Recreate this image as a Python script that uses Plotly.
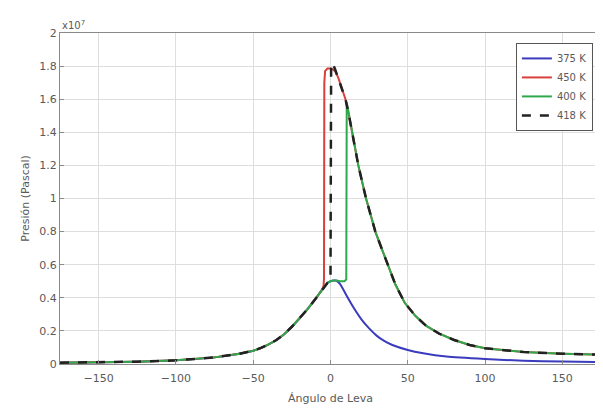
import plotly.graph_objects as go

# Pressure in units of 1e7 Pa versus crank angle (degrees)
x_375 = [-175, -150, -125, -100, -75, -60, -50, -45, -40, -35, -30, -25, -20, -15, -10, -5, -2, 0, 2, 4, 6, 8, 10, 15, 20, 25, 30, 35, 40, 50, 60, 75, 100, 125, 150, 175]
y_375 = [0.008, 0.01, 0.014, 0.022, 0.04, 0.06, 0.08, 0.097, 0.118, 0.145, 0.18, 0.225, 0.275, 0.33, 0.39, 0.455, 0.49, 0.50, 0.505, 0.503, 0.485, 0.455, 0.42, 0.34, 0.27, 0.215, 0.17, 0.138, 0.115, 0.085, 0.065, 0.045, 0.03, 0.02, 0.015, 0.012]

x_450 = [-175, -150, -125, -100, -75, -60, -50, -45, -40, -35, -30, -25, -20, -15, -10, -6, -4.5, -4.2, -4.0, -3.5, -2, 0, 1.5, 3, 5, 7, 9.7, 12, 14, 16, 18, 20.5, 23, 26, 29, 33, 37, 42, 48, 55, 62, 70, 80, 90, 100, 125, 150, 175]
y_450 = [0.008, 0.01, 0.014, 0.022, 0.04, 0.06, 0.08, 0.097, 0.118, 0.145, 0.18, 0.225, 0.275, 0.33, 0.39, 0.44, 0.47, 0.52, 1.70, 1.77, 1.785, 1.785, 1.78, 1.77, 1.73, 1.67, 1.60, 1.50, 1.40, 1.30, 1.20, 1.10, 1.00, 0.90, 0.80, 0.70, 0.60, 0.48, 0.37, 0.29, 0.23, 0.185, 0.145, 0.115, 0.095, 0.072, 0.062, 0.056]

x_400 = [-175, -150, -125, -100, -75, -60, -50, -45, -40, -35, -30, -25, -20, -15, -10, -5, -2, 0, 2, 4, 6, 9, 10.2, 10.5, 12, 14, 16, 18, 20.5, 23, 26, 29, 33, 37, 42, 48, 55, 62, 70, 80, 90, 100, 125, 150, 175]
y_400 = [0.008, 0.01, 0.014, 0.022, 0.04, 0.06, 0.08, 0.097, 0.118, 0.145, 0.18, 0.225, 0.275, 0.33, 0.39, 0.455, 0.49, 0.50, 0.505, 0.505, 0.50, 0.50, 0.51, 1.58, 1.50, 1.40, 1.30, 1.20, 1.10, 1.00, 0.90, 0.80, 0.70, 0.60, 0.48, 0.37, 0.29, 0.23, 0.185, 0.145, 0.115, 0.095, 0.072, 0.062, 0.056]

x_418 = [-175, -150, -125, -100, -75, -60, -50, -45, -40, -35, -30, -25, -20, -15, -10, -5, -2, -0.3, 0, 0.4, 1.3, 3, 5, 7, 9.7, 12, 14, 16, 18, 20.5, 23, 26, 29, 33, 37, 42, 48, 55, 62, 70, 80, 90, 100, 125, 150, 175]
y_418 = [0.008, 0.01, 0.014, 0.022, 0.04, 0.06, 0.08, 0.097, 0.118, 0.145, 0.18, 0.225, 0.275, 0.33, 0.39, 0.455, 0.49, 0.50, 0.52, 1.79, 1.82, 1.78, 1.73, 1.67, 1.60, 1.50, 1.40, 1.30, 1.20, 1.10, 1.00, 0.90, 0.80, 0.70, 0.60, 0.48, 0.37, 0.29, 0.23, 0.185, 0.145, 0.115, 0.095, 0.072, 0.062, 0.056]

x_ticks = [-150, -100, -50, 0, 50, 100, 150]
y_ticks = [0, 0.2, 0.4, 0.6, 0.8, 1, 1.2, 1.4, 1.6, 1.8, 2]
y_tick_labels = ["0", "0.2", "0.4", "0.6", "0.8", "1", "1.2", "1.4", "1.6", "1.8", "2"]

fig = go.Figure()
fig.add_trace(go.Scatter(x=x_375, y=y_375, mode="lines", name="375 K",
                         line=dict(color="#3b3bbd", width=2, shape="spline", smoothing=0.5)))
fig.add_trace(go.Scatter(x=x_450, y=y_450, mode="lines", name="450 K",
                         line=dict(color="#d8403c", width=2)))
fig.add_trace(go.Scatter(x=x_400, y=y_400, mode="lines", name="400 K",
                         line=dict(color="#2fa84c", width=2)))
fig.add_trace(go.Scatter(x=x_418, y=y_418, mode="lines", name="418 K",
                         line=dict(color="#222222", width=2.5, dash="dash")))

FONT = "DejaVu Sans, Liberation Sans, Arial, sans-serif"
axis_font = dict(family=FONT, size=11, color="#5a5a5a")
# The page body adds an 8px offset; the figure is sized so the plot area lands where the reference has it.
fig.update_layout(
    width=595, height=403,
    margin=dict(l=52, r=2, t=25, b=47),
    paper_bgcolor="white", plot_bgcolor="white",
    font=dict(family=FONT, size=11, color="#5a5a5a"),
    showlegend=True,
    legend=dict(x=0.985, y=0.97, xanchor="right", yanchor="top",
                bgcolor="white", bordercolor="#555555", borderwidth=1,
                font=dict(family=FONT, size=10, color="#5a5a5a"), tracegroupgap=0, itemwidth=30),
    xaxis=dict(range=[-175, 175], tickvals=x_ticks, showgrid=True, gridcolor="#dedede",
               zeroline=False, showline=True, linecolor="#8a8a8a", mirror=True,
               ticks="inside", ticklen=4, tickcolor="#8a8a8a", automargin=False,
               tickfont=axis_font, ticklabelstandoff=4,
               title=dict(text="Ángulo de Leva", font=axis_font, standoff=10)),
    yaxis=dict(range=[0, 2], tickvals=y_ticks, ticktext=y_tick_labels, showgrid=True,
               gridcolor="#dedede", zeroline=False, showline=True, linecolor="#8a8a8a",
               mirror=True, ticks="inside", ticklen=4, tickcolor="#8a8a8a", automargin=False,
               tickfont=axis_font,
               title=dict(text="Presión (Pascal)", font=axis_font, standoff=7)),
)
fig.add_annotation(xref="paper", yref="paper", x=0.0, y=1.0, xanchor="left", yanchor="bottom",
                   text="x10<sup>7</sup>", showarrow=False, font=dict(family=FONT, size=10, color="#5a5a5a"))

fig.write_html("out.html")
